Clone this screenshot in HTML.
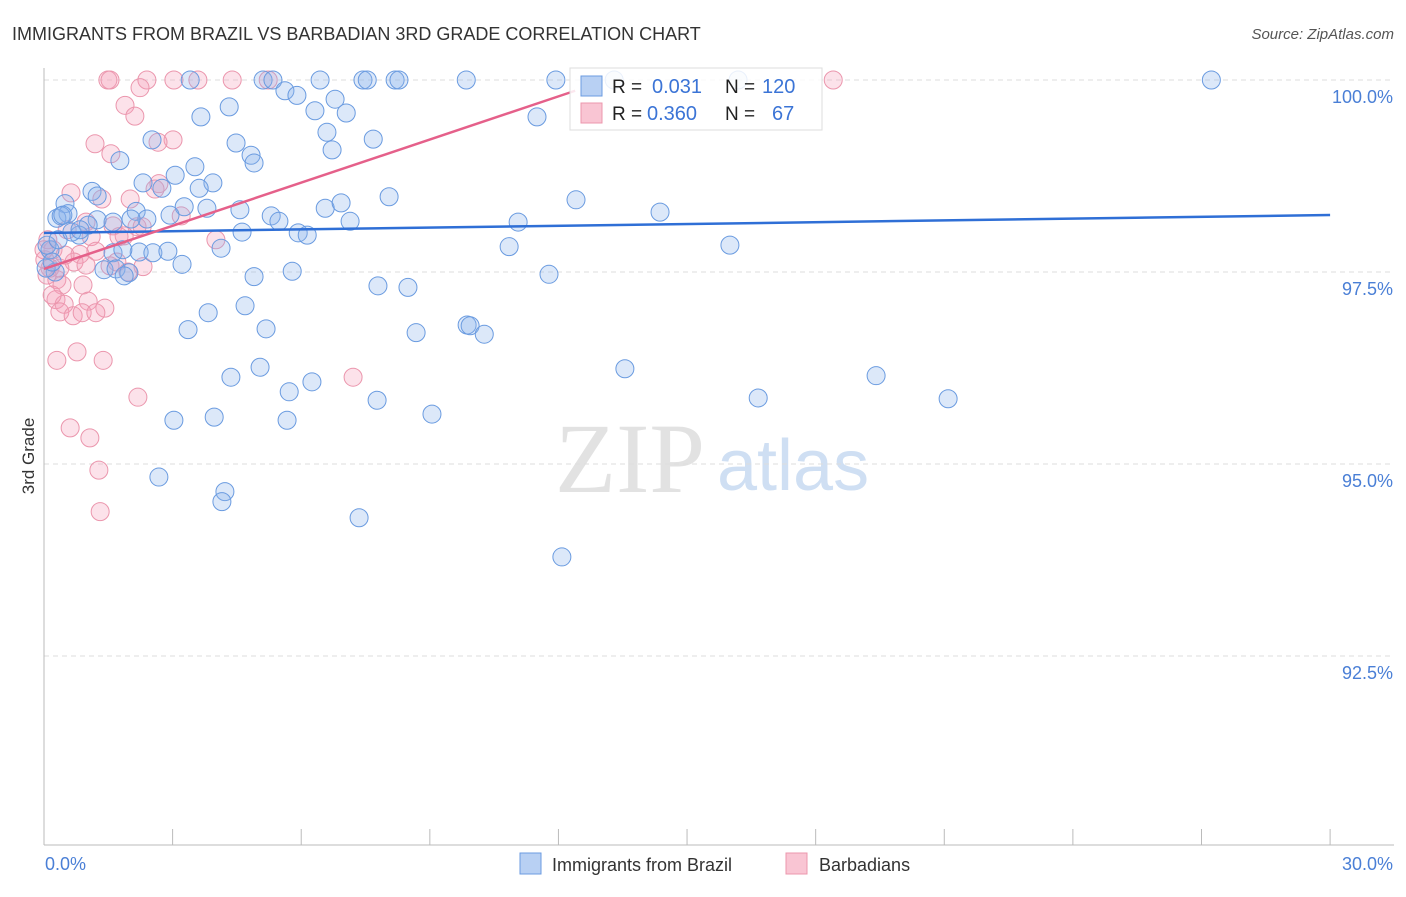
<!DOCTYPE html>
<html><head><meta charset="utf-8"><style>
body{margin:0;background:#fff;font-family:"Liberation Sans",sans-serif;}
svg text{font-family:"Liberation Sans",sans-serif;}
</style></head><body>
<svg id="chart" width="1406" height="892">
<text x="12" y="40" font-size="18" fill="#333">IMMIGRANTS FROM BRAZIL VS BARBADIAN 3RD GRADE CORRELATION CHART</text>
<text x="1394" y="39" font-size="15" fill="#555" font-style="italic" text-anchor="end">Source: ZipAtlas.com</text>
<text transform="translate(34,456) rotate(-90)" font-size="17" fill="#333" text-anchor="middle">3rd Grade</text>
<g>
<text x="555" y="492" font-size="100" font-family="Liberation Serif" fill="#e2e2e2" style="font-family:'Liberation Serif',serif">ZIP</text>
<text x="717" y="490" font-size="72" fill="#cfdff3">atlas</text>
</g>
<g id="grid"></g><g id="axes"></g><g id="pts"></g><g id="lines"></g>
<g>
<rect x="570" y="68" width="252" height="62" fill="#fff" fill-opacity="0.85" stroke="#ddd"/>
<rect x="581" y="76" width="21" height="20" fill="#b8d0f3" stroke="#6b9be0"/>
<rect x="581" y="103" width="21" height="20" fill="#f9c5d3" stroke="#ec97ad"/>
<text x="612" y="93" font-size="19" fill="#222">R = </text><text x="652" y="93" font-size="20" fill="#3b74d6">0.031</text>
<text x="725" y="93" font-size="19" fill="#222">N = </text><text x="762" y="93" font-size="20" fill="#3b74d6">120</text>
<text x="612" y="120" font-size="19" fill="#222">R = </text><text x="647" y="120" font-size="20" fill="#3b74d6">0.360</text>
<text x="725" y="120" font-size="19" fill="#222">N = </text><text x="772" y="120" font-size="20" fill="#3b74d6">67</text>
</g>
<g>
<rect x="520" y="853" width="21" height="21" fill="#b8d0f3" stroke="#6b9be0"/>
<text x="552" y="871" font-size="18" fill="#333">Immigrants from Brazil</text>
<rect x="786" y="853" width="21" height="21" fill="#f9c5d3" stroke="#ec97ad"/>
<text x="819" y="871" font-size="18" fill="#333">Barbadians</text>
</g>
</svg>
<script>
const yTicks=[100,97.5,95,92.5];
const yTickLabels=["100.0%","97.5%","95.0%","92.5%"];
const xTicks=[0,3,6,9,12,15,18,21,24,27,30];
const xEndLabels=["0.0%","30.0%"];
const brazilX=[3.41,5.11,5.34,6.44,7.44,7.54,8.19,8.28,9.85,11.94,13.30,16.19,27.23,5.62,5.90,6.79,4.32,6.32,3.66,7.05,11.50,6.60,7.68,2.52,4.48,6.72,4.83,4.90,1.77,3.52,3.06,2.31,2.75,3.94,3.62,1.12,1.24,0.49,8.05,12.41,6.56,6.93,3.27,3.80,4.57,14.37,0.56,0.30,0.40,2.15,2.94,5.30,5.48,7.14,11.06,1.24,2.40,1.03,0.82,4.62,5.93,6.14,16.00,10.85,4.13,1.61,2.22,2.54,2.89,1.84,3.22,1.40,1.68,1.98,1.87,0.26,5.79,4.90,11.78,7.79,8.49,4.69,3.83,5.18,3.36,8.68,9.87,9.94,10.27,5.04,4.36,6.25,13.55,19.41,5.72,7.77,16.66,21.09,9.05,3.03,3.97,5.67,2.68,4.22,4.15,7.35,12.08,0.14,0.05,0.19,0.07,0.33,0.65,0.84,1.61,2.03,0.44];
const brazilY=[100,100,100,100,100,100,100,100,100,100,100,100,100,99.86,99.80,99.75,99.65,99.60,99.52,99.57,99.52,99.32,99.23,99.22,99.18,99.09,99.02,98.92,98.95,98.87,98.76,98.66,98.59,98.66,98.59,98.55,98.49,98.39,98.48,98.44,98.33,98.40,98.35,98.33,98.31,98.28,98.26,98.20,98.23,98.29,98.24,98.23,98.16,98.16,98.15,98.18,98.19,98.11,97.98,98.02,98.01,97.98,97.85,97.83,97.81,97.75,97.76,97.75,97.77,97.79,97.60,97.53,97.54,97.49,97.45,97.50,97.51,97.44,97.47,97.32,97.30,97.06,96.97,96.76,96.75,96.71,96.81,96.80,96.69,96.26,96.13,96.07,96.24,96.15,95.94,95.83,95.86,95.85,95.65,95.57,95.61,95.57,94.83,94.64,94.51,94.30,93.79,97.79,97.55,97.63,97.85,97.92,98.02,98.05,98.15,98.19,98.24];
const barbX=[1.49,1.54,2.40,3.03,3.59,4.39,5.23,18.41,2.24,1.89,2.12,1.19,3.01,2.66,1.56,0.63,1.35,2.01,2.68,2.59,3.20,1.61,2.17,0.98,1.10,0.54,4.01,1.87,1.21,0.84,0.70,1.70,2.31,1.96,0.21,0.14,0.30,0.42,0.91,0.28,0.47,1.03,1.42,0.37,0.68,0.89,1.21,0.77,1.38,0.30,7.21,2.19,0.61,1.07,1.28,1.31,0.09,0.02,0.19,0.98,1.75,2.29,1.54,0.37,0.07,0,0.49];
const barbY=[100,100,100,100,100,100,100,100,99.90,99.67,99.53,99.17,99.22,99.19,99.04,98.53,98.45,98.45,98.65,98.58,98.23,98.10,98.09,98.15,97.96,98.05,97.92,97.97,97.77,97.73,97.63,97.63,97.57,97.50,97.79,97.55,97.40,97.33,97.33,97.14,97.08,97.12,97.03,96.98,96.93,96.97,96.97,96.46,96.35,96.35,96.13,95.87,95.47,95.34,94.92,94.38,97.92,97.66,97.20,97.59,97.96,98.09,97.58,97.55,97.46,97.79,97.72];
const brazilTrend=[[0,98.008],[30,98.242]];
const barbTrend=[[0,97.54],[12.39,99.86]];

const NS="http://www.w3.org/2000/svg";
const sx=v=>44+v*42.87;
const sy=v=>80+(100-v)*76.8;
function mk(tag,attrs,parent){const e=document.createElementNS(NS,tag);for(const k in attrs)e.setAttribute(k,attrs[k]);parent.appendChild(e);return e;}
const grid=document.getElementById('grid'),axes=document.getElementById('axes'),pts=document.getElementById('pts'),lines=document.getElementById('lines');
yTicks.forEach((t,i)=>{
 const l=mk('line',{x1:44,x2:1394,y1:sy(t),y2:sy(t),stroke:'#ddd','stroke-dasharray':'5,4'},grid);
 
 
 const tx=mk('text',{x:1393,y:sy(t)+23,'font-size':18,fill:'#4a7fd6','text-anchor':'end'},axes);
 tx.textContent=yTickLabels[i];
 
 
});
const ax=mk('line',{x1:44,x2:44,y1:68,y2:845,stroke:'#bbb'},axes);


const bx=mk('line',{x1:44,x2:1394,y1:845,y2:845,stroke:'#bbb'},axes);


xTicks.forEach(t=>{
 const l=mk('line',{x1:sx(t),x2:sx(t),y1:829,y2:845,stroke:'#bbb'},axes);
 
 
});
const xl0=mk('text',{x:45,y:870,'font-size':18,fill:'#4a7fd6'},axes);xl0.textContent=xEndLabels[0];


const xl1=mk('text',{x:1393,y:870,'font-size':18,fill:'#4a7fd6','text-anchor':'end'},axes);xl1.textContent=xEndLabels[1];


function drawPts(X,Y,fill,stroke,name){
 X.forEach((x,i)=>{
  const c=mk('circle',{cx:sx(x),cy:sy(Y[i]),r:9,fill:fill,stroke:stroke,'stroke-width':1},pts);
  
  
 });
}
drawPts(barbX,barbY,'rgba(244,160,186,0.3)','#eb96ad','barbadians-point');
drawPts(brazilX,brazilY,'rgba(140,180,236,0.3)','#6a9be0','brazil-point');
const t1=mk('line',{x1:sx(brazilTrend[0][0]),y1:sy(brazilTrend[0][1]),x2:sx(brazilTrend[1][0]),y2:sy(brazilTrend[1][1]),stroke:'#2f6fd6','stroke-width':2.5},lines);


const t2=mk('line',{x1:sx(barbTrend[0][0]),y1:sy(barbTrend[0][1]),x2:sx(barbTrend[1][0]),y2:sy(barbTrend[1][1]),stroke:'#e5608a','stroke-width':2.5},lines);


</script>
</body></html>
